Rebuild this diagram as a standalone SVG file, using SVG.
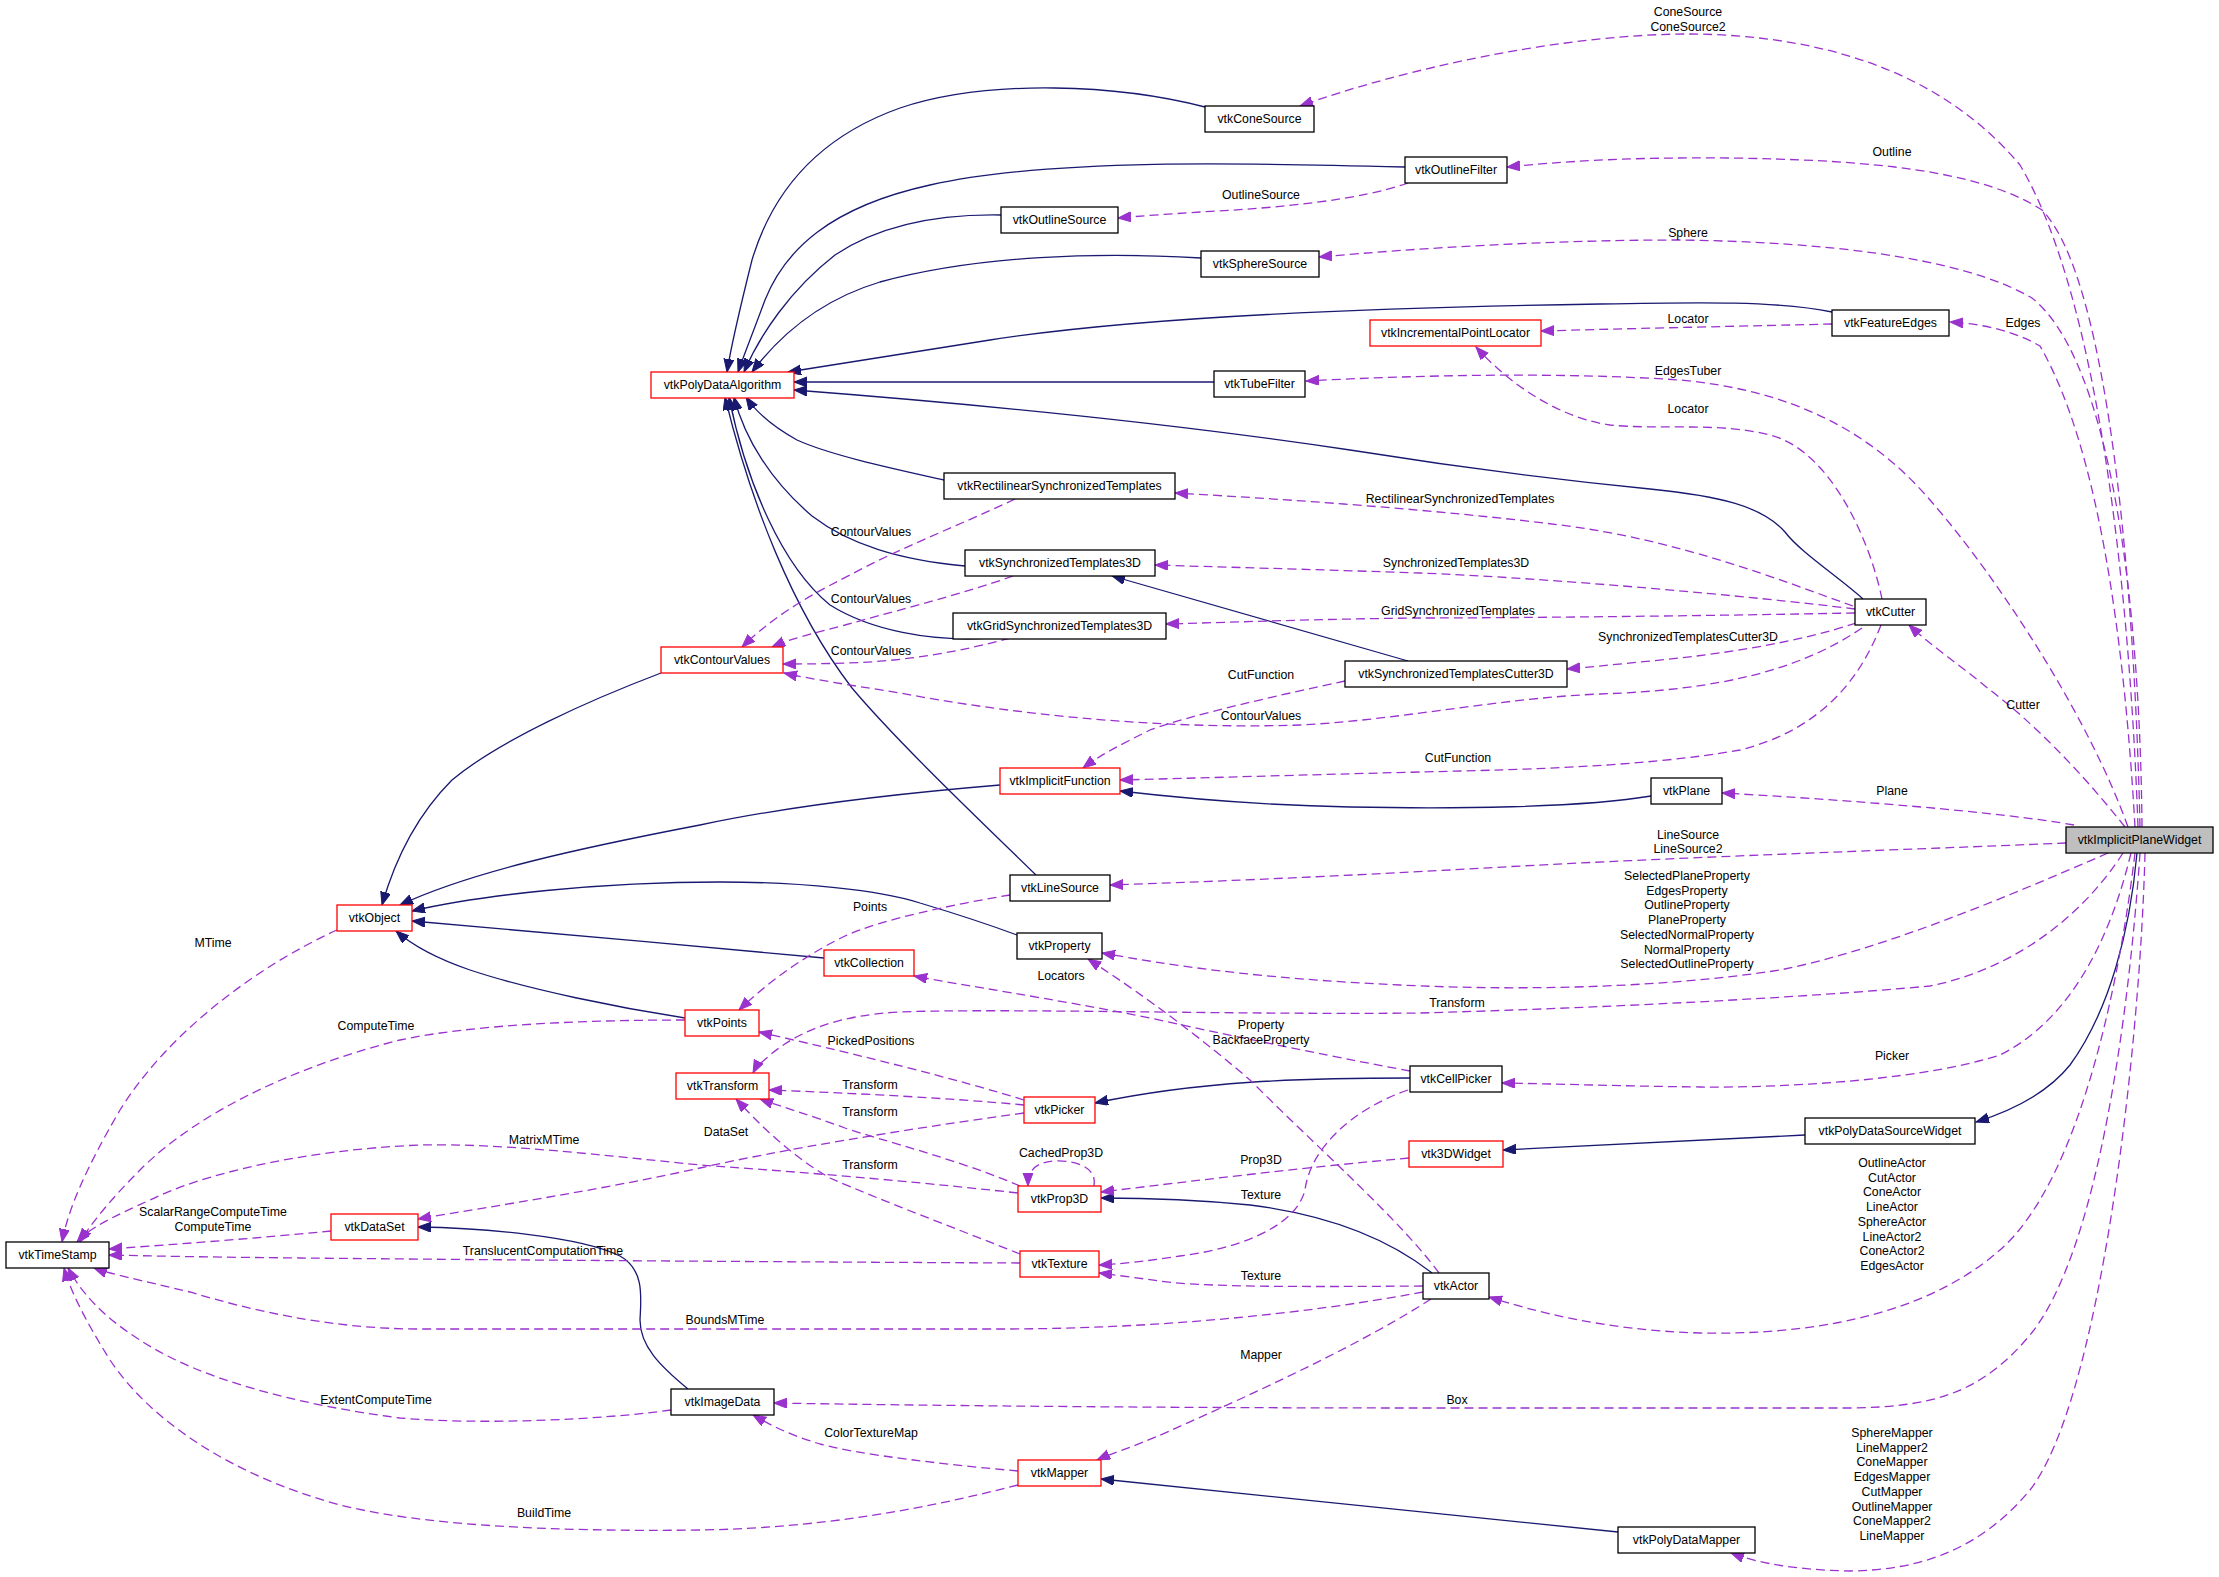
<svg xmlns="http://www.w3.org/2000/svg" width="2219" height="1577" viewBox="0 0 2219 1577">
<style>
text{font-family:"Liberation Sans",Arial,Helvetica,sans-serif;font-size:12.3px;fill:#000;text-anchor:middle}
.n rect{fill:#fff;stroke:#000;stroke-width:1.3}
.r rect{stroke:#ff0000}
.g rect{fill:#bfbfbf}
.i{fill:none;stroke:#191970;stroke-width:1.3}
.u{fill:none;stroke:#9a32cd;stroke-width:1.3;stroke-dasharray:9,5}
</style>
<defs>
<marker id="an" markerUnits="userSpaceOnUse" markerWidth="14" markerHeight="11" refX="13" refY="5" orient="auto"><path d="M0,0 L13,5 L0,10 Z" fill="#191970" stroke="#191970"/></marker>
<marker id="ap" markerUnits="userSpaceOnUse" markerWidth="14" markerHeight="11" refX="13" refY="5" orient="auto"><path d="M0,0 L13,5 L0,10 Z" fill="#9a32cd" stroke="#9a32cd"/></marker>
</defs>
<rect width="2219" height="1577" fill="#fff"/>
<g id="connectors">
<g marker-end="url(#an)">
<path class="i" d="M1205,107 C1120,85 990,78 900,108 C810,140 770,200 752,260 C742,300 732,340 727,372"/>
<path class="i" d="M1405,167 C1250,163 1050,158 930,185 C830,207 785,250 765,300 C754,330 744,355 738,372"/>
<path class="i" d="M1001,215 C940,214 880,225 835,255 C790,290 760,335 744,372"/>
<path class="i" d="M1201,258 C1100,252 980,255 880,282 C820,300 780,335 752,372"/>
<path class="i" d="M1832,312 C1780,301 1700,302 1600,304 C1400,307 1150,315 990,340 C900,354 840,364 788,372"/>
<path class="i" d="M1214,382 L794,382"/>
<path class="i" d="M1863,599 C1840,578 1800,552 1785,532 C1762,506 1720,496 1650,489 C1550,479 1450,466 1350,450 C1150,420 950,402 794,390"/>
<path class="i" d="M944,480 C890,468 830,455 797,440 C772,426 756,412 746,397"/>
<path class="i" d="M965,566 C900,560 850,545 812,516 C772,482 745,440 734,397"/>
<path class="i" d="M990,638 C930,642 870,630 830,605 C782,566 746,482 729,397"/>
<path class="i" d="M1036,875 C990,830 900,745 852,688 C792,610 750,500 725,397"/>
<path class="i" d="M1408,661 L1112,576"/>
<path class="i" d="M661,673 C590,700 500,740 452,780 C412,820 392,870 382,905"/>
<path class="i" d="M1000,785 C880,795 780,808 700,825 C580,848 470,872 400,905"/>
<path class="i" d="M1017,935 C990,925 950,912 920,903 C880,890 800,882 720,882 C600,882 480,895 412,911"/>
<path class="i" d="M824,958 C700,946 520,931 412,921"/>
<path class="i" d="M685,1018 C620,1008 530,990 470,970 C435,958 412,945 396,931"/>
<path class="i" d="M1651,796 C1580,808 1450,809 1350,807 C1250,805 1180,798 1120,791"/>
<path class="i" d="M1410,1078 C1300,1078 1200,1081 1095,1103"/>
<path class="i" d="M1805,1135 L1503,1150"/>
<path class="i" d="M2137,853 C2130,930 2110,1010 2070,1065 C2050,1090 2020,1108 1976,1122"/>
<path class="i" d="M1432,1273 C1390,1240 1330,1215 1250,1205 C1190,1199 1150,1198 1101,1198"/>
<path class="i" d="M688,1389 C660,1366 640,1346 640,1320 C641,1298 645,1270 620,1256 C580,1236 480,1228 418,1227"/>
<path class="i" d="M1618,1532 L1101,1479"/>
</g>
<g marker-end="url(#ap)">
<path class="u" d="M2138,827 C2130,600 2100,300 2020,165 C1940,70 1820,35 1690,34 C1560,34 1400,70 1300,106"/>
<path class="u" d="M2140,827 C2135,600 2110,280 2042,210 C1980,170 1870,160 1730,158 C1620,157 1560,162 1507,167"/>
<path class="u" d="M2142,827 C2140,600 2110,360 2032,298 C1960,256 1820,242 1680,240 C1550,240 1420,248 1319,257"/>
<path class="u" d="M2135,827 C2125,650 2100,450 2040,346 C2010,329 1980,324 1950,322"/>
<path class="u" d="M2128,827 C2090,720 2000,580 1930,500 C1870,430 1790,390 1680,380 C1560,372 1420,375 1306,381"/>
<path class="u" d="M1882,599 C1870,540 1830,450 1770,435 C1720,422 1660,430 1610,425 C1560,418 1510,385 1476,347"/>
<path class="u" d="M1832,324 C1750,326 1650,328 1541,331"/>
<path class="u" d="M1408,183 C1360,200 1280,208 1200,212 C1170,214 1140,216 1118,218"/>
<path class="u" d="M1853,606 C1780,580 1680,540 1560,525 C1440,510 1300,500 1175,493"/>
<path class="u" d="M1855,609 C1750,596 1550,578 1420,573 C1300,569 1220,567 1155,565"/>
<path class="u" d="M1855,613 C1700,616 1500,618 1420,618 C1320,619 1240,622 1166,624"/>
<path class="u" d="M1856,623 C1800,642 1720,655 1640,662 C1610,665 1590,667 1567,669"/>
<path class="u" d="M1862,628 C1800,670 1720,690 1600,694 C1500,698 1400,720 1300,725 C1150,730 1000,712 900,693 C850,685 810,679 784,673"/>
<path class="u" d="M1881,625 C1860,680 1820,730 1740,750 C1640,768 1500,770 1420,772 C1300,775 1200,778 1120,780"/>
<path class="u" d="M1345,681 C1280,695 1190,715 1150,730 C1120,745 1100,755 1083,768"/>
<path class="u" d="M1015,499 C960,525 900,548 850,575 C800,600 770,620 742,647"/>
<path class="u" d="M1013,576 C960,595 880,615 845,625 C810,634 790,639 772,647"/>
<path class="u" d="M1010,638 C960,652 900,662 845,663 C820,664 800,664 783,664"/>
<path class="u" d="M1010,895 C950,905 880,920 845,936 C800,958 765,985 739,1010"/>
<path class="u" d="M2066,843 C1900,850 1650,858 1450,870 C1300,878 1200,882 1110,885"/>
<path class="u" d="M2108,853 C2000,900 1880,950 1780,970 C1650,990 1500,990 1400,985 C1250,978 1170,965 1102,953"/>
<path class="u" d="M2123,853 C2080,920 2010,970 1930,986 C1800,998 1600,1008 1420,1013 C1250,1015 1000,1008 900,1012 C840,1015 800,1030 770,1055 C762,1062 756,1067 753,1073"/>
<path class="u" d="M2131,853 C2110,940 2070,1020 2000,1055 C1930,1078 1800,1088 1700,1087 C1620,1086 1560,1084 1502,1083"/>
<path class="u" d="M2135,853 C2120,980 2080,1180 2000,1250 C1920,1320 1800,1335 1700,1333 C1600,1330 1530,1310 1489,1297"/>
<path class="u" d="M2140,853 C2130,1000 2100,1250 2030,1335 C1980,1395 1930,1407 1850,1408 L1420,1408 C1200,1408 950,1406 774,1403"/>
<path class="u" d="M2145,853 C2140,1050 2100,1400 2030,1490 C1980,1550 1920,1570 1850,1571 C1800,1570 1760,1564 1731,1553"/>
<path class="u" d="M2125,827 C2080,770 2030,720 1990,690 C1960,665 1930,645 1909,625"/>
<path class="u" d="M2074,825 C2000,812 1850,800 1722,793"/>
<path class="u" d="M1410,1071 C1350,1060 1250,1040 1150,1018 C1050,998 960,985 914,976"/>
<path class="u" d="M1439,1273 C1400,1220 1320,1150 1250,1080 C1180,1020 1120,980 1088,959"/>
<path class="u" d="M1024,1100 C960,1080 860,1055 759,1032"/>
<path class="u" d="M1024,1105 C950,1098 850,1093 769,1090"/>
<path class="u" d="M1024,1113 C900,1130 780,1150 700,1168 C600,1190 500,1205 418,1219"/>
<path class="u" d="M1020,1186 C960,1160 880,1140 845,1128 C810,1115 785,1108 760,1099"/>
<path class="u" d="M1020,1254 C960,1230 880,1200 830,1178 C790,1155 760,1125 736,1099"/>
<path class="u" d="M1018,1193 C900,1180 800,1172 700,1165 C600,1155 500,1143 420,1145 C300,1150 200,1175 150,1200 C110,1218 90,1228 77,1242"/>
<path class="u" d="M1094,1186 C1098,1165 1070,1160 1055,1161 C1038,1162 1028,1168 1028,1186"/>
<path class="u" d="M1409,1158 C1300,1168 1200,1180 1101,1192"/>
<path class="u" d="M1408,1090 C1350,1110 1310,1150 1305,1190 C1295,1230 1230,1250 1180,1256 C1140,1262 1120,1264 1099,1265"/>
<path class="u" d="M1423,1286 C1300,1287 1200,1287 1160,1281 C1130,1277 1115,1275 1099,1273"/>
<path class="u" d="M1423,1292 C1300,1315 1150,1329 1000,1329 L420,1329 C330,1329 250,1310 190,1292 C140,1280 110,1274 94,1268"/>
<path class="u" d="M1020,1263 C800,1262 500,1260 300,1258 C200,1257 150,1256 109,1255"/>
<path class="u" d="M1431,1299 C1360,1345 1250,1395 1185,1424 C1140,1445 1115,1452 1097,1460"/>
<path class="u" d="M337,930 C260,965 170,1030 120,1110 C85,1170 68,1210 62,1242"/>
<path class="u" d="M685,1020 C580,1020 470,1025 400,1040 C300,1065 200,1110 140,1170 C110,1200 90,1225 80,1242"/>
<path class="u" d="M331,1231 C260,1238 180,1244 109,1249"/>
<path class="u" d="M671,1410 C600,1420 480,1425 400,1418 C300,1405 200,1380 140,1340 C100,1315 80,1290 68,1268"/>
<path class="u" d="M1018,1485 C920,1510 820,1528 700,1530 C550,1532 420,1525 340,1505 C230,1475 150,1420 110,1360 C85,1320 70,1290 64,1268"/>
<path class="u" d="M1018,1471 C950,1465 860,1455 820,1444 C790,1435 770,1425 753,1415"/>
</g>
<g id="edge-labels">
<text x="1688" y="16">ConeSource</text>
<text x="1688" y="31">ConeSource2</text>
<text x="1892" y="156">Outline</text>
<text x="1261" y="199">OutlineSource</text>
<text x="1688" y="237">Sphere</text>
<text x="1688" y="323">Locator</text>
<text x="2023" y="327">Edges</text>
<text x="1688" y="375">EdgesTuber</text>
<text x="1688" y="413">Locator</text>
<text x="1460" y="503">RectilinearSynchronizedTemplates</text>
<text x="871" y="536">ContourValues</text>
<text x="1456" y="567">SynchronizedTemplates3D</text>
<text x="871" y="603">ContourValues</text>
<text x="1458" y="615">GridSynchronizedTemplates</text>
<text x="1688" y="641">SynchronizedTemplatesCutter3D</text>
<text x="871" y="655">ContourValues</text>
<text x="1261" y="679">CutFunction</text>
<text x="2023" y="709">Cutter</text>
<text x="1261" y="720">ContourValues</text>
<text x="1458" y="762">CutFunction</text>
<text x="1892" y="795">Plane</text>
<text x="1688" y="839">LineSource</text>
<text x="1688" y="853">LineSource2</text>
<text x="1687" y="880">SelectedPlaneProperty<tspan x="1687" dy="14.7">EdgesProperty</tspan><tspan x="1687" dy="14.7">OutlineProperty</tspan><tspan x="1687" dy="14.7">PlaneProperty</tspan><tspan x="1687" dy="14.7">SelectedNormalProperty</tspan><tspan x="1687" dy="14.7">NormalProperty</tspan><tspan x="1687" dy="14.7">SelectedOutlineProperty</tspan></text>
<text x="870" y="911">Points</text>
<text x="213" y="947">MTime</text>
<text x="1061" y="980">Locators</text>
<text x="1457" y="1007">Transform</text>
<text x="376" y="1030">ComputeTime</text>
<text x="1261" y="1029">Property</text>
<text x="1261" y="1044">BackfaceProperty</text>
<text x="871" y="1045">PickedPositions</text>
<text x="1892" y="1060">Picker</text>
<text x="870" y="1089">Transform</text>
<text x="870" y="1116">Transform</text>
<text x="726" y="1136">DataSet</text>
<text x="544" y="1144">MatrixMTime</text>
<text x="1061" y="1157">CachedProp3D</text>
<text x="1261" y="1164">Prop3D</text>
<text x="1892" y="1167">OutlineActor<tspan x="1892" dy="14.7">CutActor</tspan><tspan x="1892" dy="14.7">ConeActor</tspan><tspan x="1892" dy="14.7">LineActor</tspan><tspan x="1892" dy="14.7">SphereActor</tspan><tspan x="1892" dy="14.7">LineActor2</tspan><tspan x="1892" dy="14.7">ConeActor2</tspan><tspan x="1892" dy="14.7">EdgesActor</tspan></text>
<text x="870" y="1169">Transform</text>
<text x="1261" y="1199">Texture</text>
<text x="213" y="1216">ScalarRangeComputeTime</text>
<text x="213" y="1231">ComputeTime</text>
<text x="543" y="1255">TranslucentComputationTime</text>
<text x="1261" y="1280">Texture</text>
<text x="725" y="1324">BoundsMTime</text>
<text x="1261" y="1359">Mapper</text>
<text x="376" y="1404">ExtentComputeTime</text>
<text x="1457" y="1404">Box</text>
<text x="871" y="1437">ColorTextureMap</text>
<text x="1892" y="1437">SphereMapper<tspan x="1892" dy="14.7">LineMapper2</tspan><tspan x="1892" dy="14.7">ConeMapper</tspan><tspan x="1892" dy="14.7">EdgesMapper</tspan><tspan x="1892" dy="14.7">CutMapper</tspan><tspan x="1892" dy="14.7">OutlineMapper</tspan><tspan x="1892" dy="14.7">ConeMapper2</tspan><tspan x="1892" dy="14.7">LineMapper</tspan></text>
<text x="544" y="1517">BuildTime</text>
</g>
</g>
<g id="nodes">
<g id="vtkPolyDataAlgorithm" class="n r"><rect x="651" y="372" width="143" height="26"/><text x="722.5" y="389.4">vtkPolyDataAlgorithm</text></g>
<g id="vtkConeSource" class="n"><rect x="1205" y="106" width="109" height="26"/><text x="1259.5" y="123.4">vtkConeSource</text></g>
<g id="vtkOutlineFilter" class="n"><rect x="1405" y="157" width="102" height="26"/><text x="1456" y="174.4">vtkOutlineFilter</text></g>
<g id="vtkOutlineSource" class="n"><rect x="1001" y="207" width="117" height="26"/><text x="1059.5" y="224.4">vtkOutlineSource</text></g>
<g id="vtkSphereSource" class="n"><rect x="1201" y="251" width="118" height="26"/><text x="1260" y="268.4">vtkSphereSource</text></g>
<g id="vtkIncrementalPointLocator" class="n r"><rect x="1370" y="320" width="171" height="26"/><text x="1455.5" y="337.4">vtkIncrementalPointLocator</text></g>
<g id="vtkFeatureEdges" class="n"><rect x="1832" y="310" width="117" height="26"/><text x="1890.5" y="327.4">vtkFeatureEdges</text></g>
<g id="vtkTubeFilter" class="n"><rect x="1214" y="371" width="91" height="26"/><text x="1259.5" y="388.4">vtkTubeFilter</text></g>
<g id="vtkRectilinearSynchronizedTemplates" class="n"><rect x="944" y="473" width="231" height="26"/><text x="1059.5" y="490.4">vtkRectilinearSynchronizedTemplates</text></g>
<g id="vtkSynchronizedTemplates3D" class="n"><rect x="965" y="550" width="190" height="26"/><text x="1060" y="567.4">vtkSynchronizedTemplates3D</text></g>
<g id="vtkGridSynchronizedTemplates3D" class="n"><rect x="953" y="613" width="213" height="26"/><text x="1059.5" y="630.4">vtkGridSynchronizedTemplates3D</text></g>
<g id="vtkCutter" class="n"><rect x="1855" y="599" width="71" height="26"/><text x="1890.5" y="616.4">vtkCutter</text></g>
<g id="vtkContourValues" class="n r"><rect x="661" y="647" width="122" height="26"/><text x="722" y="664.4">vtkContourValues</text></g>
<g id="vtkSynchronizedTemplatesCutter3D" class="n"><rect x="1345" y="661" width="222" height="26"/><text x="1456" y="678.4">vtkSynchronizedTemplatesCutter3D</text></g>
<g id="vtkImplicitFunction" class="n r"><rect x="1000" y="768" width="120" height="26"/><text x="1060" y="785.4">vtkImplicitFunction</text></g>
<g id="vtkPlane" class="n"><rect x="1651" y="778" width="71" height="26"/><text x="1686.5" y="795.4">vtkPlane</text></g>
<g id="vtkImplicitPlaneWidget" class="n g"><rect x="2066" y="827" width="147" height="26"/><text x="2139.5" y="844.4">vtkImplicitPlaneWidget</text></g>
<g id="vtkLineSource" class="n"><rect x="1010" y="875" width="100" height="26"/><text x="1060" y="892.4">vtkLineSource</text></g>
<g id="vtkObject" class="n r"><rect x="337" y="905" width="75" height="26"/><text x="374.5" y="922.4">vtkObject</text></g>
<g id="vtkProperty" class="n"><rect x="1017" y="933" width="85" height="26"/><text x="1059.5" y="950.4">vtkProperty</text></g>
<g id="vtkCollection" class="n r"><rect x="824" y="950" width="90" height="26"/><text x="869" y="967.4">vtkCollection</text></g>
<g id="vtkPoints" class="n r"><rect x="685" y="1010" width="74" height="26"/><text x="722" y="1027.4">vtkPoints</text></g>
<g id="vtkCellPicker" class="n"><rect x="1410" y="1066" width="92" height="26"/><text x="1456" y="1083.4">vtkCellPicker</text></g>
<g id="vtkTransform" class="n r"><rect x="676" y="1073" width="93" height="26"/><text x="722.5" y="1090.4">vtkTransform</text></g>
<g id="vtkPicker" class="n r"><rect x="1024" y="1097" width="71" height="26"/><text x="1059.5" y="1114.4">vtkPicker</text></g>
<g id="vtkPolyDataSourceWidget" class="n"><rect x="1805" y="1118" width="170" height="26"/><text x="1890" y="1135.4">vtkPolyDataSourceWidget</text></g>
<g id="vtk3DWidget" class="n r"><rect x="1409" y="1141" width="94" height="26"/><text x="1456" y="1158.4">vtk3DWidget</text></g>
<g id="vtkProp3D" class="n r"><rect x="1018" y="1186" width="83" height="26"/><text x="1059.5" y="1203.4">vtkProp3D</text></g>
<g id="vtkDataSet" class="n r"><rect x="331" y="1214" width="87" height="26"/><text x="374.5" y="1231.4">vtkDataSet</text></g>
<g id="vtkTimeStamp" class="n"><rect x="6" y="1242" width="103" height="26"/><text x="57.5" y="1259.4">vtkTimeStamp</text></g>
<g id="vtkTexture" class="n r"><rect x="1020" y="1251" width="79" height="26"/><text x="1059.5" y="1268.4">vtkTexture</text></g>
<g id="vtkActor" class="n"><rect x="1423" y="1273" width="66" height="26"/><text x="1456" y="1290.4">vtkActor</text></g>
<g id="vtkImageData" class="n"><rect x="671" y="1389" width="103" height="26"/><text x="722.5" y="1406.4">vtkImageData</text></g>
<g id="vtkMapper" class="n r"><rect x="1018" y="1460" width="83" height="26"/><text x="1059.5" y="1477.4">vtkMapper</text></g>
<g id="vtkPolyDataMapper" class="n"><rect x="1618" y="1527" width="137" height="26"/><text x="1686.5" y="1544.4">vtkPolyDataMapper</text></g>
</g>
</svg>
